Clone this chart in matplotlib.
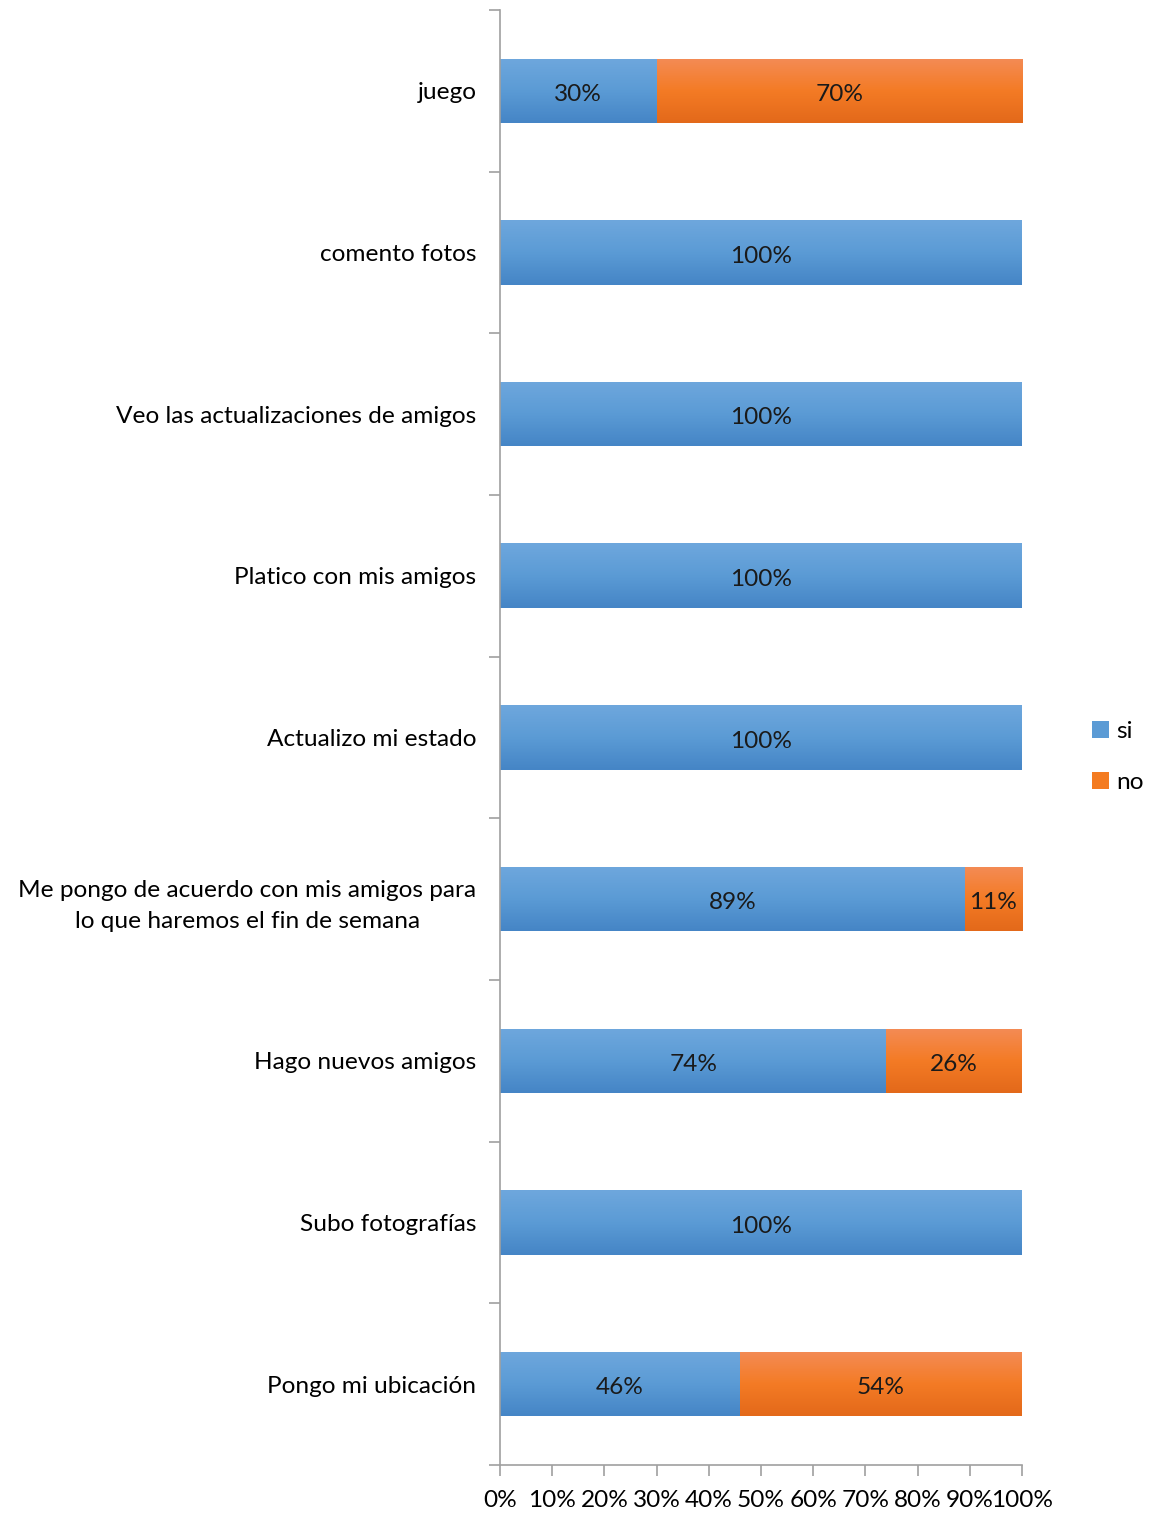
import numpy as np
import matplotlib
matplotlib.use("Agg")
import matplotlib.pyplot as plt
from matplotlib.colors import LinearSegmentedColormap
from matplotlib.patches import Patch

plt.rcParams['font.family'] = ['Lato', 'DejaVu Sans']

categories = [
    "juego",
    "comento fotos",
    "Veo las actualizaciones de amigos",
    "Platico con mis amigos",
    "Actualizo mi estado",
    "Me pongo de acuerdo con mis amigos para\nlo que haremos el fin de semana",
    "Hago nuevos amigos",
    "Subo fotografías",
    "Pongo mi ubicación",
]
si = [30, 100, 100, 100, 100, 89, 74, 100, 46]
no = [70, 0, 0, 0, 0, 11, 26, 0, 54]
series_names = ["si", "no"]
xtick_labels = ["0%", "10%", "20%", "30%", "40%", "50%", "60%", "70%", "80%", "90%", "100%"]

blue_grad = LinearSegmentedColormap.from_list("b", ["#6ea7dd", "#5b9bd5", "#4585c6"])
orange_grad = LinearSegmentedColormap.from_list("o", ["#f38b55", "#f47b25", "#e3691a"])

FS = 17.6

fig = plt.figure(figsize=(11.68, 15.14), dpi=100)
ax = fig.add_axes([500 / 1168, 1 - 1465 / 1514, 522 / 1168, 1455 / 1514])

y = np.arange(len(categories))
h = 0.40
grad = np.linspace(0, 1, 64).reshape(-1, 1)


def gradient_bars(bars, cmap):
    for b in bars:
        if b.get_width() <= 0:
            continue
        x0, y0 = b.get_x(), b.get_y()
        im = ax.imshow(grad, cmap=cmap, aspect="auto", origin="upper",
                       extent=[x0, x0 + b.get_width(), y0 + b.get_height(), y0],
                       zorder=2, interpolation="bicubic")
        im.set_clip_path(b)


b1 = ax.barh(y, si, height=h, color="#5b9bd5", zorder=1, label=series_names[0])
b2 = ax.barh(y, no, left=si, height=h, color="#f47b20", zorder=1, label=series_names[1])
gradient_bars(b1, blue_grad)
gradient_bars(b2, orange_grad)

for i in range(len(categories)):
    if si[i] > 0:
        ax.text(si[i] / 2, y[i] + 0.01, f"{si[i]}%", ha="center", va="center_baseline",
                fontsize=FS, color="#1a1a1a", zorder=3)
    if no[i] > 0:
        ax.text(si[i] + no[i] / 2, y[i] + 0.01, f"{no[i]}%", ha="center", va="center_baseline",
                fontsize=FS, color="#1a1a1a", zorder=3)

ax.set_xlim(0, 100)
ax.set_ylim(len(categories) - 0.5, -0.5)
ax.set_xticks(np.arange(0, 101, 10))
ax.set_xticklabels(xtick_labels, fontsize=FS)
ax.set_yticks(y)
ax.set_yticklabels(categories, fontsize=FS, multialignment="center", linespacing=1.55)
ax.set_yticks(np.arange(-0.5, len(categories), 1), minor=True)
ax.tick_params(axis="y", which="major", length=0, pad=17)
ax.tick_params(axis="y", which="minor", length=8, color="#a0a0a0", width=1.2)
ax.tick_params(axis="x", which="major", length=8, color="#a0a0a0", width=1.2, pad=10)

for s in ["top", "right"]:
    ax.spines[s].set_visible(False)
for s in ["left", "bottom"]:
    ax.spines[s].set_color("#a0a0a0")
    ax.spines[s].set_linewidth(1.2)

handles = [Patch(facecolor="#5b9bd5"), Patch(facecolor="#f47b20")]
fig.legend(handles, series_names, loc="center left", bbox_to_anchor=(1092 / 1168, 1 - 757 / 1514),
           frameon=False, fontsize=FS, handlelength=0.7, handleheight=0.7,
           handletextpad=0.3, labelspacing=1.2, borderaxespad=0, borderpad=0)

fig.savefig("out.png", dpi=100)
